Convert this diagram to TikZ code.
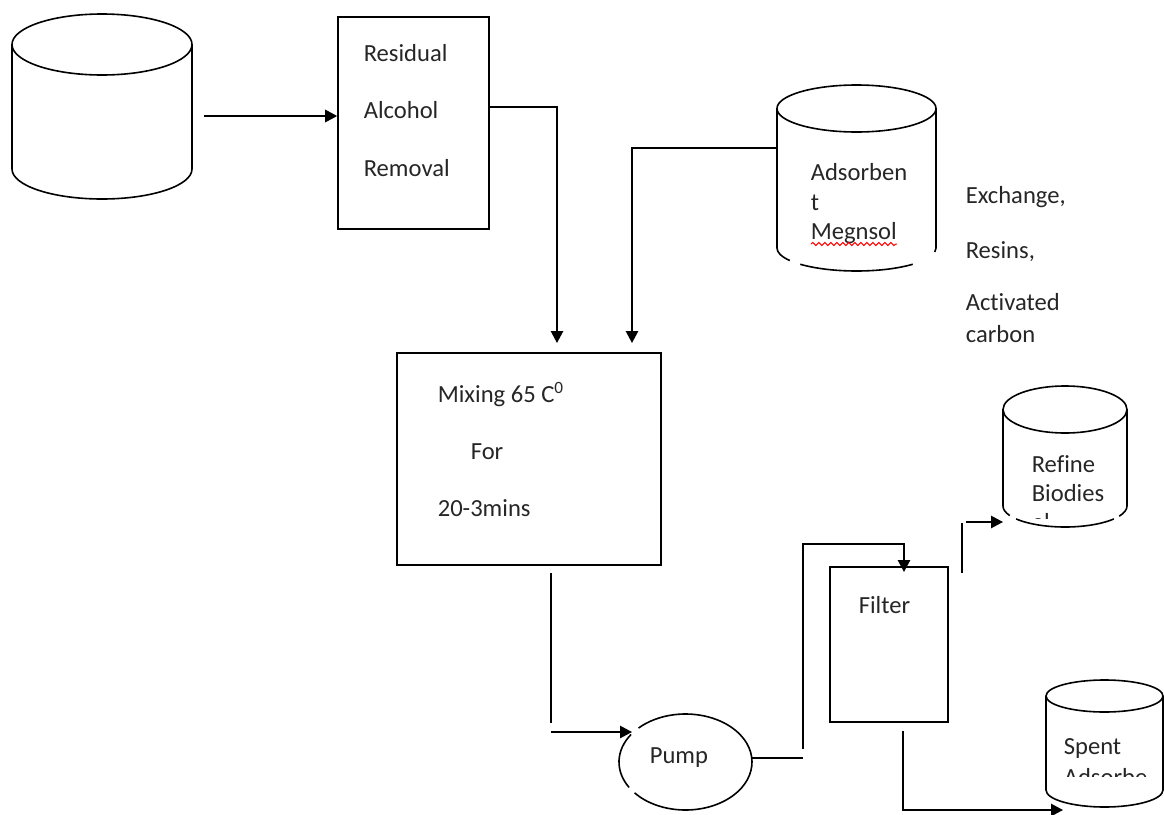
\documentclass[tikz,border=0pt]{standalone}
\usepackage{fontspec}
\setmainfont{Carlito}[Ligatures=NoCommon]
\usetikzlibrary{arrows.meta,fit,decorations.pathmorphing}
\begin{document}
\begin{tikzpicture}[x=0.5pt,y=-0.5pt,line width=0.8pt,
  lbl/.style={anchor=base west,inner sep=0pt,font=\fontsize{12.3}{14}\selectfont,text=black!85},
  boxst/.style={draw,inner sep=0pt,line width=0.8pt},
  arr/.style={-{Triangle[length=6pt,width=6.2pt]}}]
\useasboundingbox (0,0) rectangle (1164,815);

% ---------- tanks (cylinders) ----------
% feed tank
\coordinate (tankA) at (102,106);
\draw (102,44.5) ellipse [x radius=45pt,y radius=15.25pt];
\draw (12,44.5) -- (12,169) arc[start angle=180,end angle=360,x radius=45pt,y radius=15pt] -- (192,44.5);

% adsorbent tank
\coordinate (tankB) at (856.5,180);
\draw (856.5,108.5) ellipse [x radius=39.75pt,y radius=11.75pt];
\draw (777,108.5) -- (777,248) arc[start angle=180,end angle=213,x radius=39.75pt,y radius=11.5pt];
\draw ([shift={(225:39.75pt and 11.5pt)}]856.5,248) arc[start angle=225,end angle=315,x radius=39.75pt,y radius=11.5pt];
\draw ([shift={(350:39.75pt and 11.5pt)}]856.5,248) arc[start angle=350,end angle=360,x radius=39.75pt,y radius=11.5pt] -- (936,108.5);

% refined biodiesel tank
\coordinate (tankC) at (1065,460);
\draw (1065,409.5) ellipse [x radius=31pt,y radius=11.75pt];
\draw (1003,409.5) -- (1003,506) arc[start angle=180,end angle=207,x radius=31pt,y radius=10.5pt];
\draw ([shift={(218:31pt and 10.5pt)}]1065,506) arc[start angle=218,end angle=322,x radius=31pt,y radius=10.5pt];
\draw ([shift={(331:31pt and 10.5pt)}]1065,506) arc[start angle=331,end angle=360,x radius=31pt,y radius=10.5pt] -- (1127,409.5);

% spent adsorbent tank
\coordinate (tankD) at (1104.5,745);
\draw (1104.5,696) ellipse [x radius=29.25pt,y radius=8pt];
\draw (1046,696) -- (1046,790) arc[start angle=180,end angle=360,x radius=29.25pt,y radius=8.5pt] -- (1163,696);

% pump
\coordinate (pumpC) at (685.5,762);
\draw ([shift={(220:33.25pt and 24pt)}]685.5,762) arc[start angle=220,end angle=495,x radius=33.25pt,y radius=24pt];
\draw ([shift={(145:33.25pt and 24pt)}]685.5,762) arc[start angle=145,end angle=212,x radius=33.25pt,y radius=24pt];

% ---------- boxes ----------
\node[boxst,fit={(338,17)(489,229)}] (resid) {};
\node[boxst,fit={(397,353)(661,565)}] (mix) {};
\node[boxst,fit={(830,567)(948,722)}] (filter) {};

% ---------- texts ----------
\node[lbl] (t1) at (363,61) {Residual};
\node[lbl] (t2) at (363,118) {Alcohol};
\node[lbl] (t3) at (363,176) {Removal};
\node[lbl] (t4) at (810,180) {Adsorben};
\node[lbl] (t5) at (810,210) {t};
\node[lbl] (t6) at (810,239) {Megnsol};
\draw[red,line width=0.5pt,decorate,decoration={snake,amplitude=0.8pt,segment length=3pt}] (811,244) -- (897,244);
\node[lbl] (t7) at (965,203) {Exchange,};
\node[lbl] (t8) at (965,258) {Resins,};
\node[lbl] (t9) at (965,310) {Activated};
\node[lbl] (t10) at (965,342) {carbon};
\node[lbl] (t11) at (437,402) {Mixing 65 C\textsuperscript{0}};
\node[lbl] (t12) at (470,459) {For};
\node[lbl] (t13) at (437,516) {20-3mins};
\node[lbl] (t14) at (1031,472) {Refine};
\node[lbl] (t15) at (1031,501) {Biodies};
\begin{scope}
  \clip (1000,505) rectangle (1130,518);
  \node[lbl] (t16) at (1031,530) {el};
\end{scope}
\node[lbl] (t17) at (858,613) {Filter};
\node[lbl] (t18) at (649,763) {Pump};
\node[lbl] (t19) at (1063,754) {Spent};
\begin{scope}
  \clip (1050,760) rectangle (1160,776);
  \node[lbl] (t20) at (1063,785) {Adsorbe};
\end{scope}

% ---------- connector points ----------
\coordinate (c1) at (204,116);
\coordinate (r1) at (557,107);
\coordinate (mixin1) at (557,343);
\coordinate (adsL) at (777,148);
\coordinate (a1) at (632,148);
\coordinate (mixin2) at (632,343);
\coordinate (m1) at (551,573);
\coordinate (m2) at (551,723);
\coordinate (m3) at (551,732);
\coordinate (pumpin) at (632,732);
\coordinate (pumpout) at (752,758);
\coordinate (p1) at (803,758);
\coordinate (p2) at (803,749);
\coordinate (p3) at (803,544);
\coordinate (f1) at (904,572);
\coordinate (q1) at (962,573);
\coordinate (q2) at (962,523);
\coordinate (q3) at (966,522);
\coordinate (refL) at (1003,522);
\coordinate (s1) at (903,731);
\coordinate (spentin) at (1063,810);

% ---------- connectors ----------
\draw[arr] (c1) -- (resid.west |- c1);
\draw[arr] (resid.east |- r1) -- (r1) -- (mixin1);
\draw[arr] (adsL) -- (a1) -- (mixin2);
\draw (m1) -- (m2);
\draw[arr] (m3) -- (pumpin);
\draw (pumpout) -- (p1);
\draw[arr] (p2) -- (p3) -| (f1);
\draw (q1) -- (q2);
\draw[arr] (q3) -- (refL);
\draw[arr] (s1) |- (spentin);
\end{tikzpicture}
\end{document}
